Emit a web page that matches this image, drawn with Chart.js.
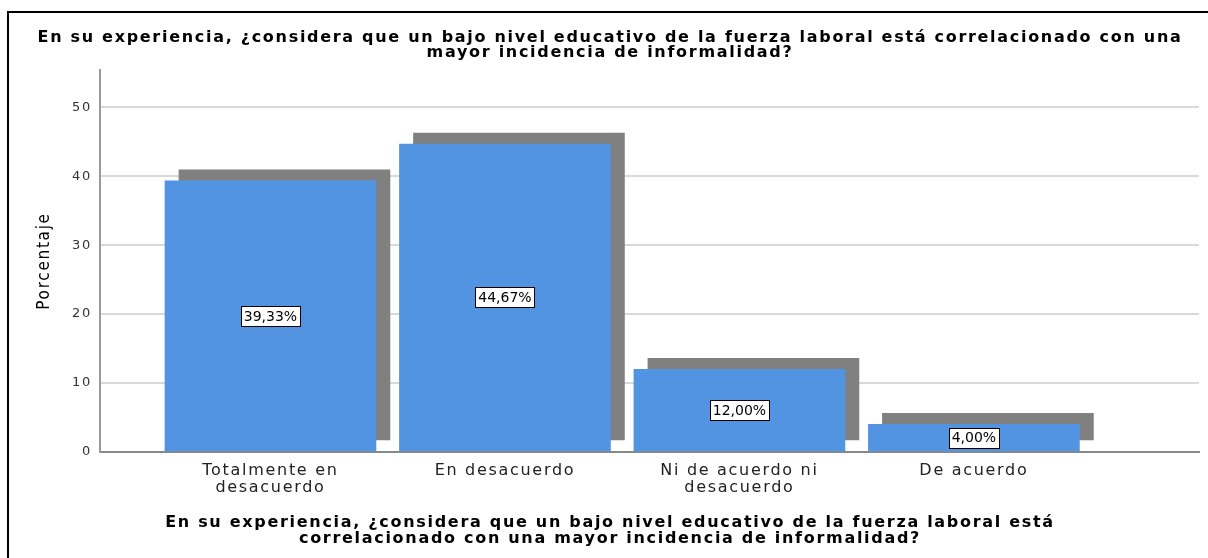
<!DOCTYPE html>
<html>
<head>
<meta charset="utf-8">
<script src="https://cdn.jsdelivr.net/npm/chart.js@4"></script>
<style>
  html, body { margin: 0; padding: 0; background: #fff; overflow: hidden; }
  canvas { display: block; }
</style>
</head>
<body>
<canvas id="chart" width="1208" height="558"></canvas>
<script>
const titleLines = [
  "En su experiencia, ¿considera que un bajo nivel educativo de la fuerza laboral está correlacionado con una",
  "mayor incidencia de informalidad?"
];
const xTitleLines = [
  "En su experiencia, ¿considera que un bajo nivel educativo de la fuerza laboral está",
  "correlacionado con una mayor incidencia de informalidad?"
];
const categories = [
  ["Totalmente en", "desacuerdo"],
  "En desacuerdo",
  ["Ni de acuerdo ni", "desacuerdo"],
  "De acuerdo"
];
const percentages = [39.33, 44.67, 12.00, 4.00];
const yTicks = [0, 10, 20, 30, 40, 50];

const fmt = (v) => v.toFixed(2).replace(".", ",") + "%";

// black frame on left/top, and the wide spaced-out text of the export
const frame = {
  id: "frame",
  beforeDraw(chart) {
    const ctx = chart.ctx;
    ctx.save();
    ctx.strokeStyle = "#000";
    ctx.lineWidth = 2;
    ctx.beginPath();
    ctx.moveTo(8, chart.height + 5);
    ctx.lineTo(8, 12);
    ctx.lineTo(chart.width + 5, 12);
    ctx.stroke();
    ctx.restore();
    ctx.letterSpacing = "1.7px";
  }
};

// gray drop shadow behind bars + boxed value labels
const barExtras = {
  id: "barExtras",
  beforeDatasetsDraw(chart) {
    const ctx = chart.ctx;
    ctx.letterSpacing = "0px";
    ctx.save();
    ctx.shadowColor = "#808080";
    ctx.shadowOffsetX = 14;
    ctx.shadowOffsetY = -11;
    ctx.shadowBlur = 0;
  },
  afterDatasetsDraw(chart) {
    const ctx = chart.ctx;
    ctx.restore();
    const meta = chart.getDatasetMeta(0);
    ctx.save();
    ctx.font = "14px 'DejaVu Sans'";
    ctx.textAlign = "center";
    ctx.textBaseline = "middle";
    meta.data.forEach((bar, i) => {
      const text = fmt(percentages[i]);
      const w = Math.round(ctx.measureText(text).width + 6);
      const h = 20;
      const cy = (bar.y + bar.base) / 2;
      const x0 = Math.round(bar.x - w / 2) + 0.5;
      const y0 = Math.round(cy - h / 2) + 0.5;
      ctx.fillStyle = "#fff";
      ctx.fillRect(x0, y0, w, h);
      ctx.strokeStyle = "#000";
      ctx.lineWidth = 1;
      ctx.strokeRect(x0, y0, w, h);
      ctx.fillStyle = "#000";
      ctx.fillText(text, bar.x, cy + 1);
    });
    ctx.restore();
  }
};

new Chart(document.getElementById("chart").getContext("2d"), {
  type: "bar",
  data: {
    datasets: [{
      data: percentages.map((v, i) => ({ x: i, y: v })),
      backgroundColor: "#5294E2",
      borderWidth: 0,
      barThickness: 211
    }]
  },
  plugins: [frame, barExtras],
  options: {
    responsive: false,
    animation: false,
    layout: { padding: { left: 21, right: 9, top: 0, bottom: 0 } },
    plugins: {
      legend: { display: false },
      tooltip: { enabled: false },
      title: {
        display: true,
        text: titleLines,
        color: "#000",
        font: { family: "'DejaVu Sans'", size: 16, weight: "bold", lineHeight: "15px" },
        padding: { top: 30, bottom: 10 }
      },
      subtitle: {
        display: true,
        position: "bottom",
        text: xTitleLines,
        color: "#000",
        font: { family: "'DejaVu Sans'", size: 16, weight: "bold", lineHeight: "16px" },
        padding: { top: 0, bottom: 11 }
      }
    },
    scales: {
      x: {
        type: "linear",
        offset: false,
        min: -0.727,
        max: 3.96,
        grid: { display: false },
        border: { display: true, color: "#888", width: 2 },
        afterBuildTicks: (scale) => { scale.ticks = categories.map((c, i) => ({ value: i })); },
        afterFit: (scale) => { scale.height = 63; },
        ticks: {
          autoSkip: false,
          maxRotation: 0,
          padding: 2,
          color: "#222",
          font: { family: "'DejaVu Sans'", size: 16, lineHeight: "17px" },
          callback: (v) => categories[v]
        }
      },
      y: {
        min: 0,
        max: 55.4,
        afterBuildTicks: (scale) => { scale.ticks = yTicks.map((v) => ({ value: v })); },
        afterFit: (scale) => { scale.width = 79; },
        grid: { color: "#d9d9d9", lineWidth: 2, drawTicks: false },
        border: { display: true, color: "#9a9a9a", width: 2 },
        ticks: {
          padding: 8,
          color: "#333",
          font: { family: "'DejaVu Sans'", size: 13 }
        },
        title: {
          display: true,
          text: "Porcentaje",
          color: "#000",
          font: { family: "'Liberation Sans Narrow', 'DejaVu Sans Condensed'", size: 17, lineHeight: "20px" },
          padding: { top: 14, bottom: 0 }
        }
      }
    }
  }
});
</script>
</body>
</html>
